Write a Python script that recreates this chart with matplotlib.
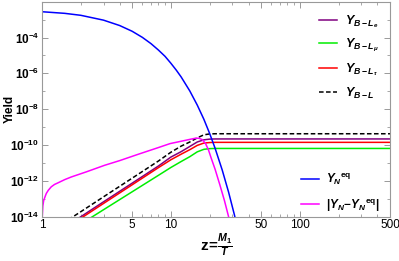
import numpy as np
import matplotlib
matplotlib.use('Agg')
import matplotlib.pyplot as plt
from matplotlib.ticker import FixedLocator, NullFormatter

plt.rcParams['font.family'] = 'Liberation Sans'
plt.rcParams['mathtext.fontset'] = 'custom'
plt.rcParams['mathtext.rm'] = 'Liberation Sans:bold'
plt.rcParams['mathtext.it'] = 'Liberation Sans:bold:italic'
plt.rcParams['mathtext.bf'] = 'Liberation Sans:bold'

# Y_N^eq (log10 values)
z_eq = [1, 1.5, 2, 3, 4, 5, 6, 7, 8, 9, 10, 11, 12, 14, 16, 18, 20, 22, 25, 28, 31, 33]
log_eq = [-2.56, -2.65, -2.76, -3.03, -3.33, -3.65, -3.99, -4.34, -4.70, -5.05, -5.44,
          -5.82, -6.20, -6.98, -7.77, -8.56, -9.37, -10.18, -11.40, -12.63, -13.87, -14.70]

# |Y_N - Y_N^eq|
z_dev = [1.0, 1.005, 1.015, 1.03, 1.06, 1.08, 1.12, 1.18, 1.25, 1.33, 1.5, 1.69, 2.2, 3.06,
         4.0, 5.55, 8, 9.84, 11.8, 14.1, 15.5, 16.5, 17.5, 18.5, 19.5, 20.5, 22, 24, 26, 28, 29]
log_dev = [-16.0, -14.0, -13.4, -13.1, -12.85, -12.70, -12.52, -12.33, -12.20, -12.11, -11.93,
           -11.78, -11.50, -11.13, -10.87, -10.52, -10.14, -9.92, -9.80, -9.68, -9.62, -9.62,
           -9.70, -9.90, -10.25, -10.72, -11.35, -12.24, -13.10, -14.0, -14.4]

# B-L asymmetries
z_bl = [1.6, 2, 3, 5, 8, 10, 12, 14, 16, 18, 20, 22, 30, 100, 500]
log_bl = [-14.17, -13.72, -12.89, -11.85, -10.89, -10.40, -10.06, -9.83, -9.60, -9.43,
          -9.38, -9.37, -9.37, -9.37, -9.37]

z_e = [1.8, 2, 3, 5, 8, 10, 12, 14, 16, 18, 20, 22, 30, 100, 500]
log_e = [-14.22, -14.0, -13.17, -12.13, -11.17, -10.67, -10.37, -10.08, -9.83, -9.71,
         -9.67, -9.66, -9.66, -9.66, -9.66]

z_tau = [1.9, 2.09, 3, 5, 8, 10, 12, 14, 16, 18, 20, 22, 30, 100, 500]
log_tau = [-14.19, -14.0, -13.26, -12.22, -11.26, -10.82, -10.51, -10.26, -10.02, -9.89,
           -9.86, -9.85, -9.85, -9.85, -9.85]

z_mu = [2.2, 2.46, 3, 5, 8, 10, 12, 14, 16, 18, 20, 22, 30, 100, 500]
log_mu = [-14.22, -14.0, -13.61, -12.61, -11.69, -11.25, -10.92, -10.65, -10.38, -10.24,
          -10.20, -10.19, -10.19, -10.19, -10.19]

x_ticks = [1, 5, 10, 50, 100, 500]
x_ticklabels = ['1', '5', '10', '50', '100', '500']
y_ticks = [1e-14, 1e-12, 1e-10, 1e-8, 1e-6, 1e-4]
y_ticklabels = [r'$10^{-14}$', r'$10^{-12}$', r'$10^{-10}$', r'$10^{-8}$', r'$10^{-6}$', r'$10^{-4}$']

fig = plt.figure(figsize=(3.99, 2.61), dpi=100)
ax = fig.add_axes([0.1053, 0.1697, 0.8721, 0.8238])

lw = 1.1
l_e, = ax.plot(z_e, 10 ** np.array(log_e), color='#800080', lw=lw)
l_mu, = ax.plot(z_mu, 10 ** np.array(log_mu), color='#00ee00', lw=lw)
l_tau, = ax.plot(z_tau, 10 ** np.array(log_tau), color='#ff0000', lw=lw)
l_bl, = ax.plot(z_bl, 10 ** np.array(log_bl), color='black', lw=lw, ls=(0, (3, 1.6)))
l_eq, = ax.plot(z_eq, 10 ** np.array(log_eq), color='#0000ff', lw=lw)
l_dev, = ax.plot(z_dev, 10 ** np.array(log_dev), color='#ff00ff', lw=lw)

ax.set_xscale('log')
ax.set_yscale('log')
ax.set_xlim(1, 500)
ax.set_ylim(1e-14, 1e-2)

ax.set_xticks(x_ticks, labels=x_ticklabels)
ax.set_yticks(y_ticks, labels=y_ticklabels)
minor_x = [2, 3, 4, 6, 7, 8, 9, 20, 30, 40, 60, 70, 80, 90, 200, 300, 400]
ax.xaxis.set_minor_locator(FixedLocator(minor_x))
ax.xaxis.set_minor_formatter(NullFormatter())
ax.yaxis.set_minor_locator(FixedLocator([1e-13, 1e-11, 1e-9, 1e-7, 1e-5, 1e-3]))
ax.yaxis.set_minor_formatter(NullFormatter())
ax.tick_params(which='both', direction='in', top=True, right=True, color='#999999',
               labelsize=8.5, pad=2)
ax.tick_params(which='major', length=4, width=0.7)
ax.tick_params(which='minor', length=2, width=0.6)
for s in ax.spines.values():
    s.set_color('#999999')
    s.set_linewidth(0.8)

ax.set_ylabel('Yield', fontsize=8.5, fontweight='bold')
ax.yaxis.set_label_coords(-0.075, 0.5)
ax.set_xlabel(r'$\mathrm{z}\!=\!\frac{M_1}{T}$', fontsize=11, labelpad=1)

leg1 = ax.legend([l_e, l_mu, l_tau, l_bl],
                 [r'$Y_{B-L_e}$', r'$Y_{B-L_\mu}$', r'$Y_{B-L_\tau}$', r'$Y_{B-L}$'],
                 loc='upper right', bbox_to_anchor=(1.0, 1.0), frameon=False,
                 fontsize=9, handlelength=1.5, labelspacing=0.6, handletextpad=0.6)
ax.add_artist(leg1)
ax.legend([l_eq, l_dev], [r'$Y_N{}^{\mathrm{eq}}$', r'$|Y_N\!-\!Y_N{}^{\mathrm{eq}}|$'],
          loc='lower right', bbox_to_anchor=(1.0, -0.035), frameon=False,
          fontsize=8.5, handlelength=1.5, labelspacing=0.85, handletextpad=0.6)

fig.savefig('out.png', dpi=100)
